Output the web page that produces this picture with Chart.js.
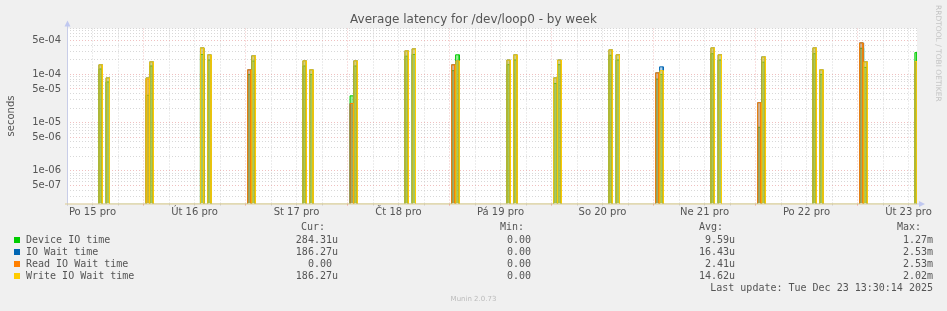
<!DOCTYPE html>
<html>
<head>
<meta charset="utf-8">
<style>
  body { margin:0; background:#f0f0f0; width:947px; height:311px; overflow:hidden; position:relative;
         font-family:'DejaVu Sans', sans-serif; }
  #chart { position:absolute; left:0; top:0; }
  .t { position:absolute; white-space:pre; line-height:12px; color:#555; }
  .mono { font-family:'DejaVu Sans Mono', monospace; font-size:10px; }
  .sq { position:absolute; width:6px; height:6px; }
</style>
<script src="https://cdn.jsdelivr.net/npm/chart.js@4.4.0/dist/chart.umd.min.js"></script>
</head>
<body>
<canvas id="chart" width="947" height="311"></canvas>
<div class="t" style="left:0;width:947px;top:13px;text-align:center;font-size:12px;color:#555">Average latency for /dev/loop0 - by week</div>
<div class="t" style="left:-14px;top:110px;width:50px;text-align:center;font-size:10px;transform:rotate(-90deg)">seconds</div>
<div class="t" style="left:890px;top:47px;width:96px;text-align:center;font-size:7.5px;color:#c4c4c4;transform:rotate(90deg)">RRDTOOL / TOBI OETIKER</div>
<div id="legend"></div>
<div class="t" style="left:0;width:947px;top:293px;text-align:center;font-size:7px;color:#bbb">Munin 2.0.73</div>

<script>
// time axis: hours since Mon 15 Dec 06:00, graph covers 200 hours
var rangeH = 200;
var dayLabels = ['Po 15 pro', 'Út 16 pro', 'St 17 pro', 'Čt 18 pro', 'Pá 19 pro',
                 'So 20 pro', 'Ne 21 pro', 'Po 22 pro', 'Út 23 pro'];

// start hour of every latency burst
var spikeHours = [7.5, 9.2, 18.6, 19.5, 31.4, 33.1, 42.5, 43.5, 55.5, 57.1, 66.6, 67.5,
                  79.5, 81.2, 90.5, 91.5, 103.5, 105.1, 114.5, 115.5, 127.5, 129.2, 138.5, 139.5,
                  151.5, 153.2, 162.5, 163.5, 175.5, 177.1, 186.5, 187.5, 199.5];

// seconds, null = idle
var deviceIO  = [1.3e-4, 7e-5, 3.7e-5, 1.5e-4, 2.6e-4, 2e-4, 1e-4, 1.9e-4, 1.5e-4, 1e-4, 3.6e-5, 1.5e-4,
                 2.4e-4, 2.6e-4, 1.2e-4, 2.56e-4, 1.6e-4, 2e-4, 6.5e-5, 1.6e-4, 2.5e-4, 2e-4, 8e-5, 1e-4,
                 2.7e-4, 2e-4, 8e-6, 1.8e-4, 2.7e-4, 1e-4, 3.5e-4, 1.4e-4, 2.8431e-4];
var ioWait    = [1.59e-4, 8.5e-5, 8.5e-5, 1.83e-4, 3.57e-4, 2.56e-4, 1.25e-4, 2.44e-4, 1.92e-4, 1.25e-4, 2.5e-5, 1.92e-4,
                 3.1e-4, 3.4e-4, 1.59e-4, 1.92e-4, 2e-4, 2.56e-4, 8.5e-5, 2e-4, 3.25e-4, 2.56e-4, 1.08e-4, 1.44e-4,
                 3.57e-4, 2.56e-4, 2.6e-5, 2.32e-4, 3.57e-4, 1.25e-4, 4.53e-4, 1.83e-4, 1.8627e-4];
var readWait  = [null, null, 8e-5, null, null, null, 1.25e-4, null, null, null, 2.5e-5, null,
                 null, null, 1.59e-4, null, null, null, null, null, null, null, 1.08e-4, null,
                 null, null, 2.6e-5, null, null, null, 4.53e-4, null, null];
var writeWait = [1.59e-4, 8.5e-5, 8.5e-5, 1.83e-4, 3.57e-4, 2.56e-4, null, 2.44e-4, 1.92e-4, 1.25e-4, null, 1.92e-4,
                 3.1e-4, 3.4e-4, null, 1.92e-4, 2e-4, 2.56e-4, 8.5e-5, 2e-4, 3.25e-4, 2.56e-4, null, 1.2e-4,
                 3.57e-4, 2.56e-4, null, 2.32e-4, 3.57e-4, 1.25e-4, null, 1.83e-4, 1.8627e-4];

var legendNames  = ['Device IO time', 'IO Wait time', 'Read IO Wait time', 'Write IO Wait time'];
var legendColors = ['#00cc00', '#0066b3', '#ff8000', '#ffcc00'];
var curVals = ['284.31u', '186.27u', '0.00 ', '186.27u'];
var minVals = ['0.00', '0.00', '0.00', '0.00'];
var avgVals = ['9.59u', '16.43u', '2.41u', '14.62u'];
var maxVals = ['1.27m', '2.53m', '2.53m', '2.02m'];
var lastUpdate = 'Last update: Tue Dec 23 13:30:14 2025';

var FLOOR = 1e-9;
var spikeW = 0.8;

function steps(vals) {
    var pts = [];
    spikeHours.forEach(function (t, i) {
        var v = vals[i];
        if (v == null) return;
        var t2 = Math.min(t + spikeW, rangeH);
        pts.push({x: t, y: FLOOR}, {x: t, y: v}, {x: t2, y: v}, {x: t2, y: FLOOR});
    });
    return pts;
}

function expLabel(v) {
    var e = Math.round(Math.log10(v) - 0.3);
    var m = Math.round(v / Math.pow(10, e));
    var s = Math.abs(e) < 10 ? '0' + Math.abs(e) : '' + Math.abs(e);
    return m + 'e' + (e < 0 ? '-' : '+') + s;
}

// legend
var lg = document.getElementById('legend');
var html = '';
function txt(x, yc, s, align) {
    if (align === 'r')
        return '<div class="t mono" style="right:' + (947 - x) + 'px;top:' + (yc - 6) + 'px">' + s + '</div>';
    return '<div class="t mono" style="left:' + x + 'px;top:' + (yc - 6) + 'px">' + s + '</div>';
}
html += txt(325, 227, 'Cur:', 'r') + txt(524, 227, 'Min:', 'r') + txt(723, 227, 'Avg:', 'r') + txt(921, 227, 'Max:', 'r');
for (var i = 0; i < 4; i++) {
    var yc = 240 + i * 12;
    html += '<div class="sq" style="left:14px;top:' + (yc - 3) + 'px;background:' + legendColors[i] + '"></div>';
    html += txt(26, yc, legendNames[i]);
    html += txt(338, yc, curVals[i], 'r');
    html += txt(531, yc, minVals[i], 'r');
    html += txt(735, yc, avgVals[i], 'r');
    html += txt(933, yc, maxVals[i], 'r');
}
html += txt(933, 288, lastUpdate, 'r');
lg.innerHTML = html;

var minorGrid = 'rgba(200,200,200,0.7)';
var majorGrid = 'rgba(230,150,150,0.6)';

var decor = {
    id: 'decor',
    beforeDraw: function (chart) {
        var a = chart.chartArea, c = chart.ctx;
        c.save();
        c.fillStyle = '#ffffff';
        c.fillRect(a.left, a.top, a.right - a.left, a.bottom - a.top);
        c.restore();
    },
    afterDraw: function (chart) {
        var a = chart.chartArea, c = chart.ctx;
        c.save();
        c.lineWidth = 1;
        // y axis
        c.strokeStyle = '#c8cde8';
        c.beginPath(); c.moveTo(a.left + 0.5, a.bottom + 2); c.lineTo(a.left + 0.5, a.top - 4); c.stroke();
        // x axis
        c.strokeStyle = '#dccb92';
        c.beginPath(); c.moveTo(a.left - 2, a.bottom + 0.5); c.lineTo(a.right, a.bottom + 0.5); c.stroke();
        c.strokeStyle = '#c8cde8';
        c.beginPath(); c.moveTo(a.right, a.bottom + 0.5); c.lineTo(a.right + 4, a.bottom + 0.5); c.stroke();
        c.fillStyle = '#c0c8f0';
        c.beginPath(); c.moveTo(a.left + 0.5, a.top - 8); c.lineTo(a.left - 2.5, a.top - 2); c.lineTo(a.left + 3.5, a.top - 2); c.closePath(); c.fill();
        c.beginPath(); c.moveTo(a.right + 8, a.bottom + 0.5); c.lineTo(a.right + 2, a.bottom - 2.5); c.lineTo(a.right + 2, a.bottom + 3.5); c.closePath(); c.fill();
        c.restore();
    }
};

function series(label, vals, color, fillColor, order) {
    return {
        label: label,
        data: steps(vals),
        borderColor: color,
        backgroundColor: fillColor,
        borderWidth: 1,
        fill: 'start',
        pointRadius: 0,
        tension: 0,
        order: order
    };
}

new Chart(document.getElementById('chart'), {
    type: 'line',
    data: {
        datasets: [
            series('Device IO time', deviceIO, '#00cc00', 'rgba(0,204,0,0.4)', 4),
            series('IO Wait time', ioWait, '#0066b3', 'rgba(0,102,179,0.3)', 3),
            series('Read IO Wait time', readWait, '#ff8000', 'rgba(255,128,0,0.35)', 2),
            series('Write IO Wait time', writeWait, '#ffcc00', 'rgba(255,204,0,0.4)', 1)
        ]
    },
    options: {
        responsive: false,
        animation: false,
        devicePixelRatio: 1,
        layout: { padding: { left: 0, right: 30, top: 28.5, bottom: 87.5 } },
        plugins: { legend: { display: false }, title: { display: false }, tooltip: { enabled: false } },
        scales: {
            x: {
                type: 'linear',
                min: 0,
                max: rangeH,
                bounds: 'data',
                afterBuildTicks: function (s) {
                    var t = [];
                    for (var h = 0; h <= rangeH; h += 6) t.push({value: h});
                    s.ticks = t;
                },
                afterFit: function (s) { s.height = 20; s.paddingLeft = 0; s.paddingRight = 0; },
                ticks: {
                    autoSkip: false,
                    maxRotation: 0,
                    padding: 1,
                    color: '#555',
                    font: { family: 'DejaVu Sans', size: 10 },
                    callback: function (v) {
                        if ((v - 6) % 24 === 0) return dayLabels[(v - 6) / 24];
                        return '';
                    }
                },
                grid: {
                    color: function (ctx) { return ctx.tick && (ctx.tick.value - 18) % 24 === 0 ? majorGrid : minorGrid; },
                    tickColor: function (ctx) { return ctx.tick && (ctx.tick.value - 18) % 24 === 0 ? '#e99' : '#ccc'; },
                    tickLength: 2,
                    lineWidth: 1
                },
                border: { display: false, dash: [1, 2] }
            },
            y: {
                type: 'logarithmic',
                min: 2.1e-7,
                max: 9e-4,
                bounds: 'data',
                afterBuildTicks: function (s) {
                    var t = [];
                    for (var e = -7; e <= -4; e++) {
                        for (var m = 1; m <= 9; m++) {
                            var v = m * Math.pow(10, e);
                            if (v >= 2.1e-7 && v <= 9.01e-4) t.push({value: v, m: m});
                        }
                    }
                    s.ticks = t;
                },
                afterFit: function (s) { s.width = 67; s.paddingTop = 0; s.paddingBottom = 0; },
                ticks: {
                    autoSkip: false,
                    padding: 6,
                    color: '#555',
                    font: { family: 'DejaVu Sans', size: 10 },
                    callback: function (v, i, ticks) {
                        var m = ticks[i].m;
                        return (m === 1 || m === 5) ? expLabel(v) : '';
                    }
                },
                grid: {
                    drawTicks: false,
                    color: function (ctx) { return ctx.tick && (ctx.tick.m === 1 || ctx.tick.m === 5) ? majorGrid : minorGrid; },
                    lineWidth: 1
                },
                border: { display: false, dash: [1, 2] }
            }
        }
    },
    plugins: [decor]
});
</script>
</body>
</html>
